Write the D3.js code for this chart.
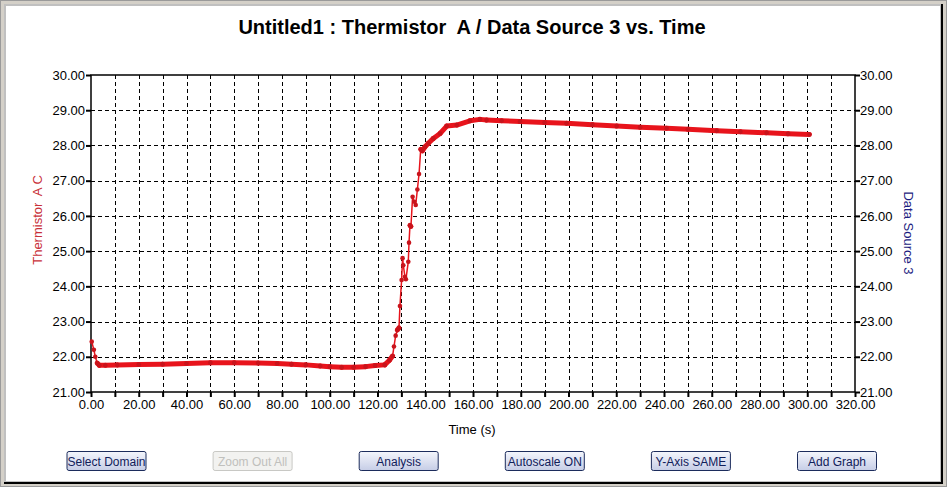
<!DOCTYPE html>
<html>
<head>
<meta charset="utf-8">
<script src="https://cdn.jsdelivr.net/npm/d3@7"></script>
<style>
  body { margin: 0; background: #d4d0c8; }
  svg { display: block; font-family: "Liberation Sans", Arial, sans-serif; }
</style>
</head>
<body>
<svg id="chart"></svg>
<script>
// readings
const timeS = [0.3, 1.2, 1.8, 2.6, 3.5, 6, 11, 20, 30, 40, 50, 60, 70, 78, 84, 90, 96, 100, 105, 110,
  115, 119, 123, 125, 126.3, 126.9, 127.6, 128.3, 129.0, 129.4, 130.1, 130.5, 130.8, 131.5, 131.9,
  132.9, 133.2, 133.6, 134.0, 134.7, 135.4, 136.0, 136.7, 137.4, 138.1, 138.8, 139.9, 141.3, 143.4,
  146.2, 149.0, 153.2, 158.7, 162.9, 165.7, 172, 179.7, 190, 199.2, 210, 220.2, 230, 241.1, 250,
  262.1, 272, 283, 292, 300.9];
const tempC = [22.43, 22.2, 22.0, 21.82, 21.76, 21.76, 21.77, 21.78, 21.79, 21.81, 21.83, 21.83, 21.82,
  21.81, 21.79, 21.77, 21.74, 21.72, 21.70, 21.70, 21.72, 21.75, 21.77, 21.90, 22.02, 22.29, 22.6,
  22.76, 22.82, 23.44, 24.18, 24.8, 24.6, 24.27, 24.2, 24.7, 25.24, 25.73, 25.7, 26.54, 26.4, 26.31,
  26.75, 27.19, 27.89, 27.85, 27.96, 28.06, 28.2, 28.34, 28.55, 28.58, 28.7, 28.74, 28.72, 28.70,
  28.68, 28.65, 28.63, 28.59, 28.55, 28.52, 28.49, 28.46, 28.42, 28.39, 28.36, 28.33, 28.31];

const xTicks = d3.range(0, 321, 10);
const xLabels = d3.range(0, 321, 20);
const yTicks = d3.range(21, 30.01, 1);
const buttonNames = ["Select Domain", "Zoom Out All", "Analysis", "Autoscale ON", "Y-Axis SAME", "Add Graph"];

const W = 947, H = 487;
const svg = d3.select("#chart").attr("width", W).attr("height", H);

// window frame
svg.append("rect").attr("x", 0).attr("y", 0).attr("width", W).attr("height", H).attr("fill", "#d4d0c8");
svg.append("rect").attr("x", 0.5).attr("y", 0.5).attr("width", W - 1).attr("height", H - 1)
  .attr("fill", "none").attr("stroke", "#9a9a9a");
svg.append("rect").attr("x", 4).attr("y", 4).attr("width", 939).attr("height", 480).attr("fill", "#000");
svg.append("rect").attr("x", 4).attr("y", 4).attr("width", 937).attr("height", 478).attr("fill", "#c0c0c0");
svg.append("rect").attr("x", 6).attr("y", 6).attr("width", 934).attr("height", 475).attr("fill", "#fff");

const x = d3.scaleLinear().domain([0, 320]).range([91, 855]);
const y = d3.scaleLinear().domain([21, 30]).range([392, 75]);

// grid
svg.append("g").selectAll("line").data(xTicks.slice(1, -1)).join("line")
  .attr("x1", d => Math.round(x(d)) + 0.5).attr("x2", d => Math.round(x(d)) + 0.5)
  .attr("y1", y(30)).attr("y2", y(21))
  .attr("stroke", "#000").attr("stroke-dasharray", "4,3");
svg.append("g").selectAll("line").data(yTicks.slice(1, -1)).join("line")
  .attr("y1", d => Math.round(y(d)) + 0.5).attr("y2", d => Math.round(y(d)) + 0.5)
  .attr("x1", x(0)).attr("x2", x(320))
  .attr("stroke", "#000").attr("stroke-dasharray", "4,3");

// axes
const bottomAxis = d3.axisBottom(x).tickValues(xTicks).tickSize(5)
  .tickFormat(d => xLabels.includes(d) ? d3.format(".2f")(d) : "");
const leftAxis = d3.axisLeft(y).tickValues(yTicks).tickSize(5).tickFormat(d3.format(".2f"));
const rightAxis = d3.axisRight(y).tickValues(yTicks).tickSize(5).tickFormat(d3.format(".2f"));

function styleAxis(g) {
  g.select(".domain").remove();
  g.selectAll(".tick line").attr("stroke", "#000").attr("stroke-width", 2);
  g.selectAll(".tick text").attr("fill", "#000").style("font-size", "13px")
    .style("font-family", "'Liberation Sans', Arial, sans-serif");
}
svg.append("g").attr("transform", "translate(0,392)").call(bottomAxis).call(styleAxis)
  .selectAll(".tick text").attr("dy", "0.9em").attr("y", 5);
svg.append("g").attr("transform", "translate(91,0)").call(leftAxis).call(styleAxis)
  .selectAll(".tick text").attr("x", -6);
svg.append("g").attr("transform", "translate(855,0)").call(rightAxis).call(styleAxis)
  .selectAll(".tick text").attr("x", 5);

// plot box
svg.append("rect").attr("x", x(0)).attr("y", y(30)).attr("width", x(320) - x(0)).attr("height", y(21) - y(30))
  .attr("fill", "none").attr("stroke", "#000").attr("stroke-width", 1.5);

// data line: dense stretches render as a thick band, steep stretches as a thin line with dots
const pts = timeS.map((t, i) => [x(t), y(tempC[i])]);
const segs = d3.pairs(pts);
svg.append("g").selectAll("line").data(segs).join("line")
  .attr("x1", d => d[0][0]).attr("y1", d => d[0][1])
  .attr("x2", d => d[1][0]).attr("y2", d => d[1][1])
  .attr("stroke", "#e8141c")
  .attr("stroke-linecap", "round")
  .attr("stroke-width", d => Math.abs(d[1][1] - d[0][1]) > 2 * Math.abs(d[1][0] - d[0][0]) ? 1.5 : 5);
svg.append("g").selectAll("circle").data(pts).join("circle")
  .attr("cx", d => d[0]).attr("cy", d => d[1]).attr("r", 2.3)
  .attr("fill", "#c8141c");

// titles
svg.append("text").attr("x", 472).attr("y", 34).attr("text-anchor", "middle")
  .style("font-size", "20px").style("font-weight", "bold").attr("fill", "#000")
  .text("Untitled1 : Thermistor  A / Data Source 3 vs. Time").attr("xml:space", "preserve");
svg.append("text").attr("x", 472).attr("y", 434).attr("text-anchor", "middle")
  .style("font-size", "13px").attr("fill", "#000").text("Time (s)");
svg.append("text").attr("transform", "translate(42,220) rotate(-90)").attr("text-anchor", "middle")
  .style("font-size", "13px").attr("fill", "#c83038").attr("xml:space", "preserve")
  .text("Thermistor  A C");
svg.append("text").attr("transform", "translate(904,233) rotate(90)").attr("text-anchor", "middle")
  .style("font-size", "13px").attr("fill", "#1c1c80").text("Data Source 3");

// buttons
const grad = svg.append("defs").append("linearGradient").attr("id", "btn")
  .attr("x1", 0).attr("y1", 0).attr("x2", 0).attr("y2", 1);
grad.append("stop").attr("offset", 0).attr("stop-color", "#f4f6fc");
grad.append("stop").attr("offset", 1).attr("stop-color", "#c6cde6");

const bx = d3.scalePoint().domain(buttonNames).range([106.5, 837]);
const btn = svg.append("g").selectAll("g").data(buttonNames).join("g")
  .attr("transform", d => `translate(${bx(d) - 40},451)`);
btn.append("rect").attr("x", 0.5).attr("y", 0.5).attr("width", 79).attr("height", 19).attr("rx", 2)
  .attr("fill", d => d === "Zoom Out All" ? "#f2f2f0" : "url(#btn)")
  .attr("stroke", d => d === "Zoom Out All" ? "#c8c8c4" : "#1c2c5c");
btn.append("text").attr("x", 40).attr("y", 14.5).attr("text-anchor", "middle")
  .style("font-size", "12px")
  .attr("fill", d => d === "Zoom Out All" ? "#c0c0bc" : "#10205a")
  .text(d => d);
</script>
</body>
</html>
